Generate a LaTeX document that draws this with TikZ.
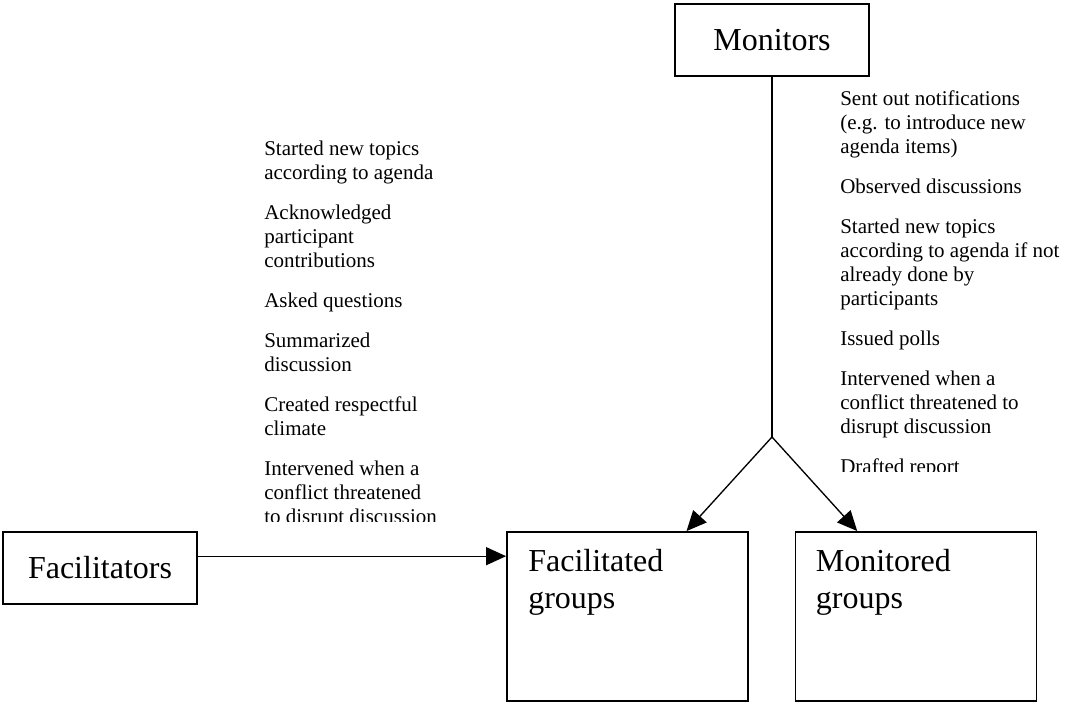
\documentclass[tikz,border=0pt]{standalone}
\usepackage{fontspec}
\setmainfont{Liberation Serif}
\usetikzlibrary{arrows.meta, calc}
\tikzset{
    actorBox/.style={
        draw=black,
        line width=1.4pt,
        inner sep=0pt,
        minimum width=145pt,
        minimum height=54pt,
        font=\fontsize{24pt}{27.75pt}\selectfont
    },
    groupBox/.style={
        draw=black,
        line width=1.4pt,
        minimum width=180.75pt,
        minimum height=126.75pt
    },
    groupLabel/.style={
        anchor=base west,
        align=left,
        inner sep=0pt,
        font=\fontsize{24pt}{27.75pt}\selectfont
    },
    taskList/.style={
        anchor=base west,
        align=left,
        inner sep=0pt,
        font=\fontsize{15.75pt}{18pt}\selectfont
    },
    link/.style={
        line width=1pt
    }
}

\begin{document}
\begin{tikzpicture}[x=0.75pt, y=-0.75pt, >={Triangle[length=15pt, width=13.5pt]}]
    \useasboundingbox (0,0) rectangle (1067,702);

    % Actors
    \node[actorBox] (monitors) at (772,40) {Monitors};
    \node[actorBox] (facilitators) at (100,568) {Facilitators};

    % Groups (label base = last line)
    \node[groupBox] (facGroups) at (627.5,616.5) {};
    \node[groupBox] (monGroups) at (916,616.5) {};
    \node[groupLabel] (facLabel) at ($(facGroups.north west)+(22,77)$) {Facilitated\\groups};
    \node[groupLabel] (monLabel) at ($(monGroups.north west)+(21,77)$) {Monitored\\groups};

    % Connectors
    \coordinate (split) at (772,437);
    \coordinate (facIn) at ($(facGroups.north west)!0.743!(facGroups.north east)$);
    \coordinate (monIn) at ($(monGroups.north west)!0.258!(monGroups.north east)$);
    \coordinate (facOut) at ($(facilitators.north east)!0.34!(facilitators.south east)$);

    \draw[link] (monitors) -- (split);
    \draw[link, ->] (split) -- (facIn);
    \draw[link, ->] (split) -- (monIn);
    \draw[link, ->] (facOut) -- (facOut -| facGroups.west);

    % Task lists, placed by their last baseline and cut off at the bottom
    \begin{scope}
        \clip (250,100) rectangle (495,521);
        \node[taskList] (facTasks) at (264,523) {Started new topics\\according to agenda\\[12pt]%
            Acknowledged\\participant\\contributions\\[12pt]%
            Asked questions\\[12pt]%
            Summarized\\discussion\\[12pt]%
            Created respectful\\climate\\[12pt]%
            Intervened when a\\conflict threatened\\to disrupt discussion};
    \end{scope}
    \begin{scope}
        \clip (830,80) rectangle (1067,471);
        \node[taskList] (monTasks) at (840,473) {Sent out notifications\\(e.g. to introduce new\\agenda items)\\[12pt]%
            Observed discussions\\[12pt]%
            Started new topics\\according to agenda if not\\already done by\\participants\\[12pt]%
            Issued polls\\[12pt]%
            Intervened when a\\conflict threatened to\\disrupt discussion\\[12pt]%
            Drafted report};
    \end{scope}
\end{tikzpicture}
\end{document}
